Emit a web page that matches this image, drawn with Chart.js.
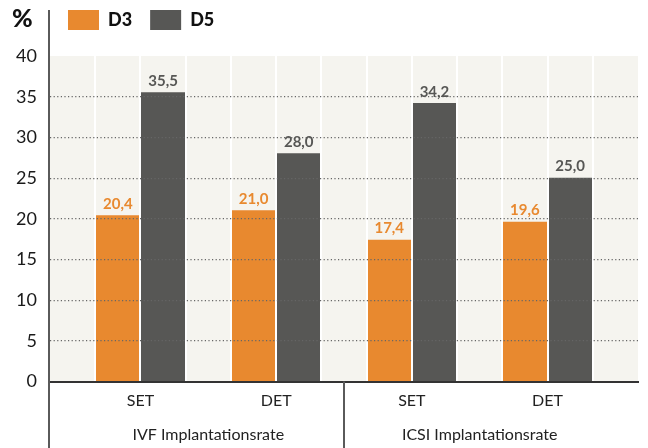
<!DOCTYPE html>
<html lang="de">
<head>
  <meta charset="UTF-8">
  <title>Implantationsrate D3 / D5</title>
  <script src="https://cdn.jsdelivr.net/npm/chart.js"></script>
  <style>
    html, body { margin: 0; padding: 0; background: #fff; }
    #wrap { width: 648px; height: 448px; }
  </style>
</head>
<body>
  <div id="wrap"><canvas id="grafico"></canvas></div>
  <script>
    // daten
    const kategorien = ["SET", "DET", "SET", "DET"];
    const bereiche = ["IVF Implantationsrate", "ICSI Implantationsrate"];
    const serien = ["D3", "D5"];
    const werteD3 = [20.4, 21.0, 17.4, 19.6];
    const werteD5 = [35.5, 28.0, 34.2, 25.0];
    const yMax = 40, yStep = 5;

    const orange = "#e8892f", grau = "#575755";
    const schrift = "Lato";

    // jede Kategorie = 3 Spalten (leer, D3, D5), plus eine leere Spalte am Ende
    const mitte = i => 2 + 3 * i;
    const xMax = 3 * kategorien.length + 1;
    const gruppen = kategorien.length / bereiche.length;
    const bereichMitte = b => {
      let s = 0;
      for (let k = 0; k < gruppen; k++) s += mitte(b * gruppen + k);
      return s / gruppen;
    };
    const trenner = b => (mitte(b * gruppen - 1) + mitte(b * gruppen)) / 2;

    const fmt = v => v.toFixed(1).replace(".", ",");
    const tickWert = c => (c && c.tick) ? c.tick.value : -1;

    const deko = {
      id: "deko",
      beforeDraw(chart) {
        const {ctx, chartArea: a} = chart;
        ctx.save();
        ctx.fillStyle = "#f5f4ef";
        ctx.fillRect(a.left, a.top, a.right - a.left, a.bottom - a.top);
        ctx.restore();
      },
      afterDraw(chart) {
        const {ctx, chartArea: a} = chart;
        const x = chart.scales.x;
        ctx.save();
        // linke Achse und Trennlinien unten
        ctx.strokeStyle = "#5a5a5a";
        ctx.lineWidth = 2;
        ctx.beginPath();
        ctx.moveTo(a.left - 1, 10);
        ctx.lineTo(a.left - 1, chart.height);
        for (let b = 1; b < bereiche.length; b++) {
          const px = x.getPixelForValue(trenner(b));
          ctx.moveTo(px, a.bottom);
          ctx.lineTo(px, chart.height);
        }
        ctx.stroke();

        // Einheit
        ctx.fillStyle = "#111";
        ctx.font = "900 25px " + schrift;
        ctx.textAlign = "left";
        ctx.textBaseline = "alphabetic";
        ctx.fillText("%", 12, 27);

        // Werte über den Balken
        ctx.font = "bold 15px " + schrift;
        ctx.textAlign = "center";
        ctx.textBaseline = "bottom";
        chart.data.datasets.forEach((ds, di) => {
          chart.getDatasetMeta(di).data.forEach((bar, i) => {
            ctx.fillStyle = ds.backgroundColor;
            ctx.fillText(fmt(ds.data[i].y), bar.x, bar.y - 4);
          });
        });
        ctx.restore();
      }
    };

    new Chart(document.getElementById("grafico"), {
      type: "bar",
      data: {
        datasets: [
          {
            label: serien[0],
            data: werteD3.map((v, i) => ({x: mitte(i) - 0.5, y: v})),
            backgroundColor: orange,
            grouped: false
          },
          {
            label: serien[1],
            data: werteD5.map((v, i) => ({x: mitte(i) + 0.5, y: v})),
            backgroundColor: grau,
            grouped: false
          }
        ]
      },
      options: {
        responsive: true,
        maintainAspectRatio: false,
        animation: false,
        events: [],
        barPercentage: 1,
        categoryPercentage: 1,
        layout: { padding: { top: -8, right: 3, left: 0, bottom: 0 } },
        plugins: {
          legend: {
            position: "top",
            align: "start",
            fullSize: false,
            labels: {
              boxWidth: 31,
              boxHeight: 20,
              padding: 18,
              color: "#111",
              font: { family: schrift, size: 18, weight: "900" }
            }
          },
          title: {
            display: true,
            text: "",
            weight: 500,
            padding: 0,
            font: { size: 16, lineHeight: 1 }
          },
          tooltip: { enabled: false }
        },
        scales: {
          x: {
            type: "linear",
            position: "bottom",
            weight: 0,
            min: 0,
            max: xMax,
            offset: false,
            afterBuildTicks: s => {
              const t = [];
              for (let v = 0; v <= xMax; v++) t.push({value: v});
              s.ticks = t;
            },
            grid: {
              offset: false,
              z: 1,
              color: c => { const v = tickWert(c); return (v > 0 && v < xMax) ? "#ffffff" : "rgba(0,0,0,0)"; },
              lineWidth: 2,
              drawTicks: false
            },
            border: { display: true, color: "#333", width: 2, z: 2 },
            ticks: {
              autoSkip: false,
              maxRotation: 0,
              padding: 10,
              color: "#222",
              font: { family: schrift, size: 16 },
              callback: v => {
                const i = kategorien.findIndex((k, j) => mitte(j) === v);
                return i >= 0 ? kategorien[i] : "";
              }
            }
          },
          x2: {
            type: "linear",
            position: "bottom",
            weight: 1,
            min: 0,
            max: xMax,
            offset: false,
            grid: { display: false, drawTicks: false, offset: false },
            border: { display: false },
            afterBuildTicks: s => { s.ticks = bereiche.map((b, i) => ({value: bereichMitte(i)})); },
            ticks: {
              autoSkip: false,
              maxRotation: 0,
              padding: 4,
              color: "#222",
              font: { family: schrift, size: 16 },
              callback: v => {
                const i = bereiche.findIndex((b, j) => bereichMitte(j) === v);
                return i >= 0 ? bereiche[i] : "";
              }
            }
          },
          y: {
            min: 0,
            max: yMax,
            afterFit: s => { s.width = 50; },
            grid: {
              z: 1,
              color: c => { const v = tickWert(c); return (v > 0 && v < yMax) ? "#666" : "rgba(0,0,0,0)"; },
              lineWidth: 1.2,
              drawTicks: false
            },
            border: { display: false, dash: [1.2, 2.4] },
            ticks: {
              stepSize: yStep,
              padding: 13,
              color: "#1a1a1a",
              font: { family: schrift, size: 18 }
            }
          }
        }
      },
      plugins: [deko]
    });
  </script>
</body>
</html>
